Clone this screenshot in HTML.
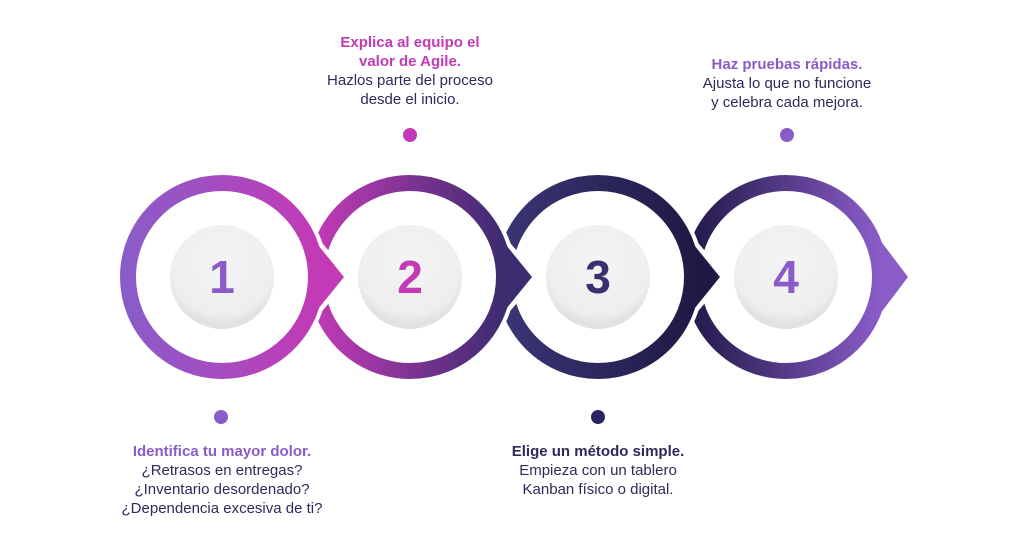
<!DOCTYPE html>
<html><head><meta charset="utf-8"><style>
body{margin:0;width:1024px;height:550px;background:#fff;overflow:hidden;position:relative;font-family:"Liberation Sans",sans-serif}
.t{position:absolute;text-align:center;font-size:15px;line-height:19px;color:#2e2a5a;width:260px}
.t b{display:block}
</style></head><body>
<svg width="1024" height="550" style="position:absolute;left:0;top:0">
<defs>
<linearGradient id="g1" x1="0" x2="1"><stop offset="0" stop-color="#8a5cc8"/><stop offset="1" stop-color="#c23ab6"/></linearGradient>
<linearGradient id="g2" x1="0" x2="1"><stop offset="0" stop-color="#c23ab6"/><stop offset="1" stop-color="#3c2c70"/></linearGradient>
<linearGradient id="g3" x1="0" x2="1"><stop offset="0" stop-color="#3a3575"/><stop offset="1" stop-color="#1f1a45"/></linearGradient>
<linearGradient id="g4" x1="0" x2="1"><stop offset="0" stop-color="#221a4a"/><stop offset="1" stop-color="#8a5cc8"/></linearGradient>
<radialGradient id="gd" cx="0.5" cy="0.35" r="0.6"><stop offset="0" stop-color="#f4f4f4"/><stop offset="0.85" stop-color="#eeeeee"/><stop offset="1" stop-color="#e2e2e2"/></radialGradient>
</defs>
<g>
<circle cx="786" cy="277" r="106" fill="#fff"/>
<path d="M880 240 L908 277 L880 314 Z" fill="#8a5cc8"/>
<circle cx="786" cy="277" r="94" fill="none" stroke="url(#g4)" stroke-width="16"/>
</g>
<g>
<circle cx="598" cy="277" r="106" fill="#fff"/>
<path d="M686 235 L722 277 L686 319 Z" fill="#fff" stroke="#fff" stroke-width="8" stroke-linejoin="round"/>
<path d="M690 240 L720 277 L690 314 Z" fill="#1f1a45"/>
<circle cx="598" cy="277" r="94" fill="none" stroke="url(#g3)" stroke-width="16"/>
</g>
<g>
<circle cx="410" cy="277" r="106" fill="#fff"/>
<path d="M498 235 L534 277 L498 319 Z" fill="#fff" stroke="#fff" stroke-width="8" stroke-linejoin="round"/>
<path d="M502 240 L532 277 L502 314 Z" fill="#3c2c70"/>
<circle cx="410" cy="277" r="94" fill="none" stroke="url(#g2)" stroke-width="16"/>
</g>
<g>
<circle cx="222" cy="277" r="106" fill="#fff"/>
<path d="M310 235 L346 277 L310 319 Z" fill="#fff" stroke="#fff" stroke-width="8" stroke-linejoin="round"/>
<path d="M314 240 L344 277 L314 314 Z" fill="#c23ab6"/>
<circle cx="222" cy="277" r="94" fill="none" stroke="url(#g1)" stroke-width="16"/>
</g>
<g font-family="Liberation Sans, sans-serif" font-size="46" font-weight="bold" text-anchor="middle">
<circle cx="222" cy="277" r="52" fill="url(#gd)"/><text x="222" y="293" fill="#8a5cc8">1</text>
<circle cx="410" cy="277" r="52" fill="url(#gd)"/><text x="410" y="293" fill="#c23ab6">2</text>
<circle cx="598" cy="277" r="52" fill="url(#gd)"/><text x="598" y="293" fill="#3a3070">3</text>
<circle cx="786" cy="277" r="52" fill="url(#gd)"/><text x="786" y="293" fill="#8a5cc8">4</text>
</g>
<circle cx="221" cy="417" r="7" fill="#8a5cc8"/>
<circle cx="410" cy="135" r="7" fill="#c23ab6"/>
<circle cx="598" cy="417" r="7" fill="#2a2560"/>
<circle cx="787" cy="135" r="7" fill="#8a5cc8"/>
</svg>
<div class="t" style="left:280px;top:33px"><b style="color:#c23ab6">Explica al equipo el<br>valor de Agile.</b>Hazlos parte del proceso<br>desde el inicio.</div>
<div class="t" style="left:657px;top:55px"><b style="color:#8a5cc8">Haz pruebas rápidas.</b>Ajusta lo que no funcione<br>y celebra cada mejora.</div>
<div class="t" style="left:92px;top:442px"><b style="color:#8a5cc8">Identifica tu mayor dolor.</b>¿Retrasos en entregas?<br>¿Inventario desordenado?<br>¿Dependencia excesiva de ti?</div>
<div class="t" style="left:468px;top:442px"><b style="color:#2e2a5a">Elige un método simple.</b>Empieza con un tablero<br>Kanban físico o digital.</div>
</body></html>
